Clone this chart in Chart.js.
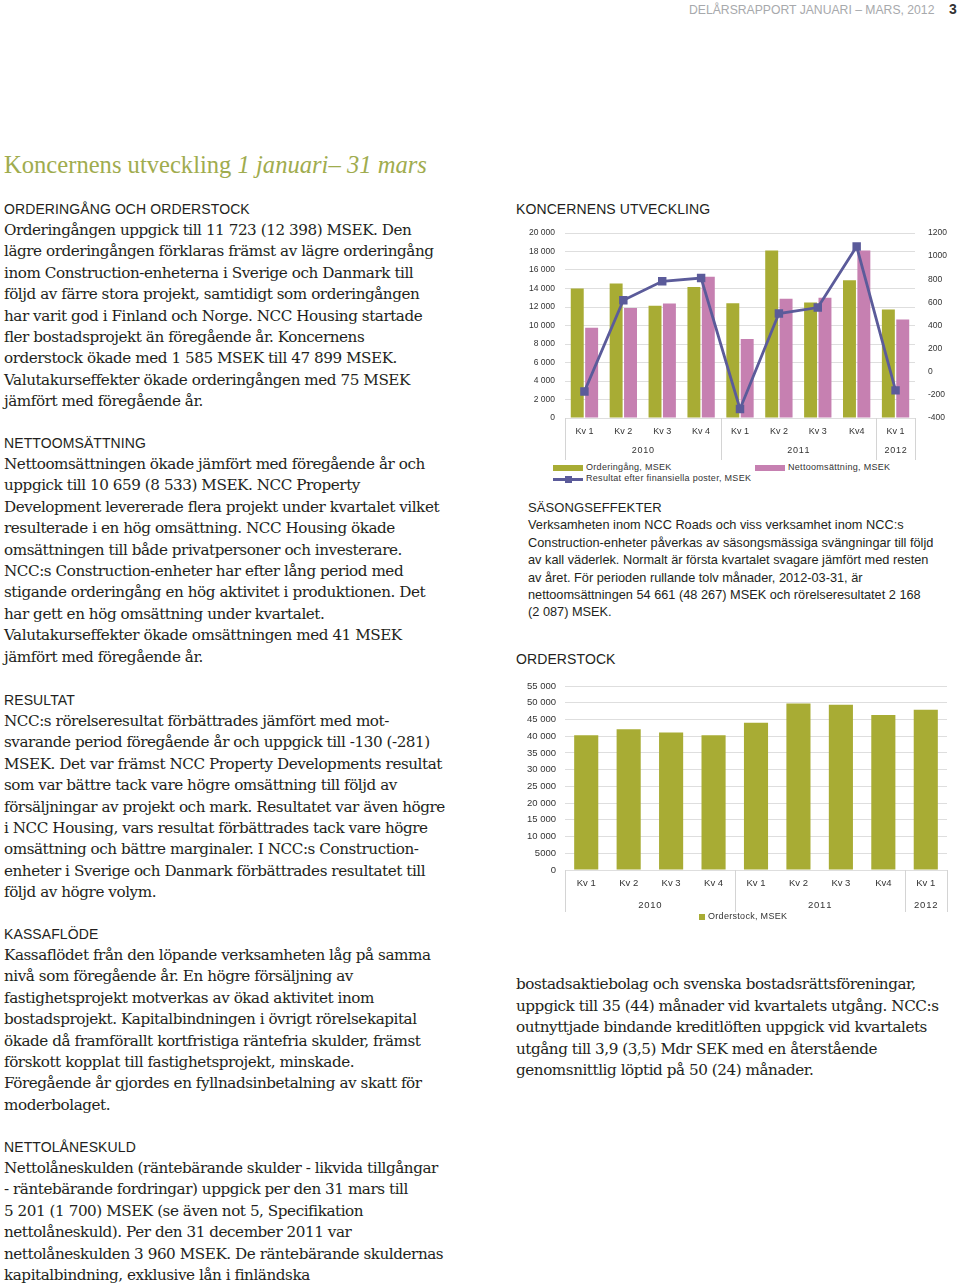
<!DOCTYPE html>
<html>
<head>
<meta charset="utf-8">
<script src="https://cdn.jsdelivr.net/npm/chart.js@4.4.0/dist/chart.umd.min.js"></script>
<style>
    body { margin: 0; background: #fff; width: 960px; height: 1286px; position: relative; overflow: hidden; color: #231f20; }
    .abs { position: absolute; white-space: pre; }
    .serif { font-family: "DejaVu Serif", serif; font-size: 15.2px; line-height: 21.45px; letter-spacing: -0.45px; }
    .head { font-family: "Liberation Sans", sans-serif; font-size: 14px; line-height: 18px; letter-spacing: 0.1px; }
    .sans { font-family: "Liberation Sans", sans-serif; font-size: 12.75px; line-height: 17.4px; }
    .legend { font-family: "Liberation Sans", sans-serif; font-size: 9px; color: #333; letter-spacing: 0.3px; }
    .box { position: absolute; }
</style>
</head>
<body>

<div class="abs" style="left:689px; top:3px; font-family:'Liberation Sans',sans-serif; font-size:12.2px; color:#a7a9ac;">DELÅRSRAPPORT JANUARI – MARS, 2012</div>
<div class="abs" style="left:949px; top:1px; font-family:'Liberation Sans',sans-serif; font-size:14px; font-weight:bold; color:#333;">3</div>

<div class="abs" style="left:4px; top:151px; font-family:'Liberation Serif',serif; font-size:24.6px; color:#9fac4e;">Koncernens utveckling <i>1 januari– 31 mars</i></div>

<div style="position:absolute; left:515px; top:222px; width:445px; height:240px;">
    <canvas id="chart1"></canvas>
</div>

<div style="position:absolute; left:515px; top:676px; width:445px; height:236px;">
    <canvas id="chart2"></canvas>
</div>

<script>
// data
let quarters = ['Kv 1', 'Kv 2', 'Kv 3', 'Kv 4', 'Kv 1', 'Kv 2', 'Kv 3', 'Kv4', 'Kv 1'];
let years = ['2010', '2011', '2012'];
let yearSpans = [4, 4, 1];

let orderIntake = [14000, 14540, 12130, 14150, 12398, 18100, 12500, 14900, 11723];
let netSales = [9770, 11880, 12390, 15260, 8533, 12890, 13000, 18100, 10659];
let resultAfterFin = [-170, 618, 782, 810, -322, 503, 555, 1083, -161];
let orderBacklog = [40300, 42100, 41100, 40300, 44000, 49800, 49400, 46314, 47899];

let leftTicks1 = ['0', '2 000', '4 000', '6 000', '8 000', '10 000', '12 000', '14 000', '16 000', '18 000', '20 000'];
let stockTicks = ['0', '5000', '10 000', '15 000', '20 000', '25 000', '30 000', '35 000', '40 000', '45 000', '50 000', '55 000'];

let labelOrder = 'Orderingång, MSEK';
let labelSales = 'Nettoomsättning, MSEK';
let labelResult = 'Resultat efter finansiella poster, MSEK';
let labelStock = 'Orderstock, MSEK';

let olive = '#a8ac34';
let pink = '#c680b1';
let purple = '#5b5b9a';

// page text
let textBlocks = [
    { x: 4, y: 209, head: 'ORDERINGÅNG OCH ORDERSTOCK', lines: [
        'Orderingången uppgick till 11 723 (12 398) MSEK. Den',
        'lägre orderingången förklaras främst av lägre orderingång',
        'inom Construction-enheterna i Sverige och Danmark till',
        'följd av färre stora projekt, samtidigt som orderingången',
        'har varit god i Finland och Norge. NCC Housing startade',
        'fler bostadsprojekt än föregående år. Koncernens',
        'orderstock ökade med 1 585 MSEK till 47 899 MSEK.',
        'Valutakurseffekter ökade orderingången med 75 MSEK',
        'jämfört med föregående år.'] },
    { x: 4, y: 443, head: 'NETTOOMSÄTTNING', lines: [
        'Nettoomsättningen ökade jämfört med föregående år och',
        'uppgick till 10 659 (8 533) MSEK. NCC Property',
        'Development levererade flera projekt under kvartalet vilket',
        'resulterade i en hög omsättning. NCC Housing ökade',
        'omsättningen till både privatpersoner och investerare.',
        'NCC:s Construction-enheter har efter lång period med',
        'stigande orderingång en hög aktivitet i produktionen. Det',
        'har gett en hög omsättning under kvartalet.',
        'Valutakurseffekter ökade omsättningen med 41 MSEK',
        'jämfört med föregående år.'] },
    { x: 4, y: 700, head: 'RESULTAT', lines: [
        'NCC:s rörelseresultat förbättrades jämfört med mot-',
        'svarande period föregående år och uppgick till -130 (-281)',
        'MSEK. Det var främst NCC Property Developments resultat',
        'som var bättre tack vare högre omsättning till följd av',
        'försäljningar av projekt och mark. Resultatet var även högre',
        'i NCC Housing, vars resultat förbättrades tack vare högre',
        'omsättning och bättre marginaler. I NCC:s Construction-',
        'enheter i Sverige och Danmark förbättrades resultatet till',
        'följd av högre volym.'] },
    { x: 4, y: 934, head: 'KASSAFLÖDE', lines: [
        'Kassaflödet från den löpande verksamheten låg på samma',
        'nivå som föregående år. En högre försäljning av',
        'fastighetsprojekt motverkas av ökad aktivitet inom',
        'bostadsprojekt. Kapitalbindningen i övrigt rörelsekapital',
        'ökade då framförallt kortfristiga räntefria skulder, främst',
        'förskott kopplat till fastighetsprojekt, minskade.',
        'Föregående år gjordes en fyllnadsinbetalning av skatt för',
        'moderbolaget.'] },
    { x: 4, y: 1147, head: 'NETTOLÅNESKULD', lines: [
        'Nettolåneskulden (räntebärande skulder - likvida tillgångar',
        '- räntebärande fordringar) uppgick per den 31 mars till',
        '5 201 (1 700) MSEK (se även not 5, Specifikation',
        'nettolåneskuld). Per den 31 december 2011 var',
        'nettolåneskulden 3 960 MSEK. De räntebärande skuldernas',
        'kapitalbindning, exklusive lån i finländska'] },
    { x: 516, y: 209, head: 'KONCERNENS UTVECKLING', lines: [] },
    { x: 516, y: 659, head: 'ORDERSTOCK', lines: [] },
    { x: 516, y: 985 - 21.45, head: null, lines: [
        'bostadsaktiebolag och svenska bostadsrättsföreningar,',
        'uppgick till 35 (44) månader vid kvartalets utgång. NCC:s',
        'outnyttjade bindande kreditlöften uppgick vid kvartalets',
        'utgång till 3,9 (3,5) Mdr SEK med en återstående',
        'genomsnittlig löptid på 50 (24) månader.'] }
];

let seasonLines = [
    'Verksamheten inom NCC Roads och viss verksamhet inom NCC:s',
    'Construction-enheter påverkas av säsongsmässiga svängningar till följd',
    'av kall väderlek. Normalt är första kvartalet svagare jämfört med resten',
    'av året. För perioden rullande tolv månader, 2012-03-31, är',
    'nettoomsättningen 54 661 (48 267) MSEK och rörelseresultatet 2 168',
    '(2 087) MSEK.'
];

function addDiv(cls, x, top, text) {
    let d = document.createElement('div');
    d.className = 'abs ' + cls;
    d.style.left = x + 'px';
    d.style.top = top + 'px';
    d.textContent = text;
    document.body.appendChild(d);
    return d;
}

textBlocks.forEach(b => {
    if (b.head)
        addDiv('head', b.x, b.y - 9, b.head);
    if (b.lines.length)
        addDiv('serif', b.x, b.y + 21.45 - 10.7, b.lines.join('\n'));
});

addDiv('head', 528, 508 - 9, 'SÄSONGSEFFEKTER').style.fontSize = '13px';
addDiv('sans', 528, 525 - 8.7, seasonLines.join('\n'));

// legends (html, positioned like the report)
function legendItem(x, y, color, text, kind) {
    let mark = document.createElement('div');
    mark.className = 'box';
    if (kind === 'bar') {
        mark.style.cssText = `left:${x}px; top:${y - 3}px; width:30px; height:6px; background:${color};`;
    } else if (kind === 'square') {
        mark.style.cssText = `left:${x}px; top:${y - 3}px; width:6px; height:6px; background:${color};`;
    } else {
        mark.style.cssText = `left:${x}px; top:${y - 1}px; width:30px; height:2.5px; background:${color};`;
        let dot = document.createElement('div');
        dot.className = 'box';
        dot.style.cssText = `left:${x + 12}px; top:${y - 3.5}px; width:7px; height:7px; background:${color};`;
        document.body.appendChild(dot);
    }
    document.body.appendChild(mark);
    return addDiv('legend', x + (kind === 'square' ? 9 : 33), y - 6, text);
}

legendItem(553, 468, olive, labelOrder, 'bar');
legendItem(755, 468, pink, labelSales, 'bar');
legendItem(553, 479, purple, labelResult, 'line');
legendItem(699, 917, olive, labelStock, 'square');

// draws 2010 / 2011 / 2012 under the quarters, plus the group dividers
let yearAxisPlugin = {
    id: 'yearAxis',
    afterDraw(chart, args, opts) {
        let ctx = chart.ctx;
        let x = chart.scales.x;
        let area = chart.chartArea;
        let half = (x.getPixelForValue(1) - x.getPixelForValue(0)) / 2;
        ctx.save();
        ctx.strokeStyle = '#d4d4d4';
        ctx.lineWidth = 1;
        ctx.fillStyle = '#333';
        ctx.font = opts.font;
        ctx.textAlign = 'center';
        ctx.textBaseline = 'middle';
        let start = 0;
        let edges = [x.getPixelForValue(0) - half];
        years.forEach((yr, i) => {
            let end = start + yearSpans[i] - 1;
            let mid = (x.getPixelForValue(start) + x.getPixelForValue(end)) / 2;
            ctx.fillText(yr.split('').join(String.fromCharCode(8202)), mid, area.bottom + opts.yearOffset);
            edges.push(x.getPixelForValue(end) + half);
            start = end + 1;
        });
        edges.forEach(e => {
            let px = Math.round(e) + 0.5;
            ctx.beginPath();
            ctx.moveTo(px, area.bottom);
            ctx.lineTo(px, area.bottom + opts.lineLength);
            ctx.stroke();
        });
        ctx.restore();
    }
};

// tick padding of a vertical axis also pushes the plot down, so cancel that
function fixVertical(width) {
    return s => {
        s.width = width;
        s.paddingTop = 0;
        s.paddingBottom = 0;
    };
}

let tickFont = { family: 'Liberation Sans', size: 9 };

new Chart(document.getElementById('chart1'), {
    type: 'bar',
    data: {
        labels: quarters,
        datasets: [
            {
                type: 'line',
                label: labelResult,
                data: resultAfterFin,
                yAxisID: 'y1',
                borderColor: purple,
                backgroundColor: purple,
                borderWidth: 2.8,
                pointStyle: 'rect',
                pointRadius: 4,
                pointHoverRadius: 4,
                tension: 0,
                order: 0
            },
            {
                label: labelOrder,
                data: orderIntake,
                backgroundColor: olive,
                categoryPercentage: 0.74,
                barPercentage: 0.9,
                order: 1
            },
            {
                label: labelSales,
                data: netSales,
                backgroundColor: pink,
                categoryPercentage: 0.74,
                barPercentage: 0.9,
                order: 1
            }
        ]
    },
    options: {
        responsive: true,
        maintainAspectRatio: false,
        animation: false,
        layout: { padding: { top: 11, bottom: 0, left: 0, right: 0 } },
        plugins: {
            legend: { display: false },
            tooltip: { enabled: false },
            yearAxis: { font: '9px "Liberation Sans"', yearOffset: 33, lineLength: 42 }
        },
        scales: {
            x: {
                grid: { display: false, drawTicks: false },
                border: { display: false },
                ticks: { color: '#333', font: tickFont, padding: 8, maxRotation: 0 },
                afterFit: s => { s.height = 44; }
            },
            y: {
                position: 'left',
                min: 0,
                max: 20000,
                ticks: {
                    stepSize: 2000,
                    color: '#333',
                    font: { family: 'Liberation Sans', size: 8.5 },
                    padding: 10,
                    callback: (v, i) => leftTicks1[i]
                },
                grid: { color: '#dedede', drawTicks: false },
                border: { display: false },
                afterFit: fixVertical(50)
            },
            y1: {
                position: 'right',
                min: -400,
                max: 1200,
                ticks: {
                    stepSize: 200,
                    color: '#333',
                    font: { family: 'Liberation Sans', size: 8.5 },
                    padding: 13,
                    callback: v => String(v)
                },
                grid: { display: false, drawTicks: false },
                border: { display: false },
                afterFit: fixVertical(45)
            }
        }
    },
    plugins: [yearAxisPlugin]
});

new Chart(document.getElementById('chart2'), {
    type: 'bar',
    data: {
        labels: quarters,
        datasets: [{
            label: labelStock,
            data: orderBacklog,
            backgroundColor: olive,
            categoryPercentage: 0.8,
            barPercentage: 0.71
        }]
    },
    options: {
        responsive: true,
        maintainAspectRatio: false,
        animation: false,
        layout: { padding: { top: 10, bottom: 0, left: 0, right: 13 } },
        plugins: {
            legend: { display: false },
            tooltip: { enabled: false },
            yearAxis: { font: '9.5px "Liberation Sans"', yearOffset: 35, lineLength: 42 }
        },
        scales: {
            x: {
                grid: { display: false, drawTicks: false },
                border: { display: false },
                ticks: { color: '#333', font: { family: 'Liberation Sans', size: 9.5 }, padding: 8, maxRotation: 0 },
                afterFit: s => { s.height = 42; }
            },
            y: {
                min: 0,
                max: 55000,
                ticks: {
                    stepSize: 5000,
                    color: '#333',
                    font: { family: 'Liberation Sans', size: 9.5 },
                    padding: 9,
                    callback: (v, i) => stockTicks[i]
                },
                grid: { color: '#dedede', drawTicks: false },
                border: { display: false },
                afterFit: fixVertical(50)
            }
        }
    },
    plugins: [yearAxisPlugin]
});
</script>
</body>
</html>
